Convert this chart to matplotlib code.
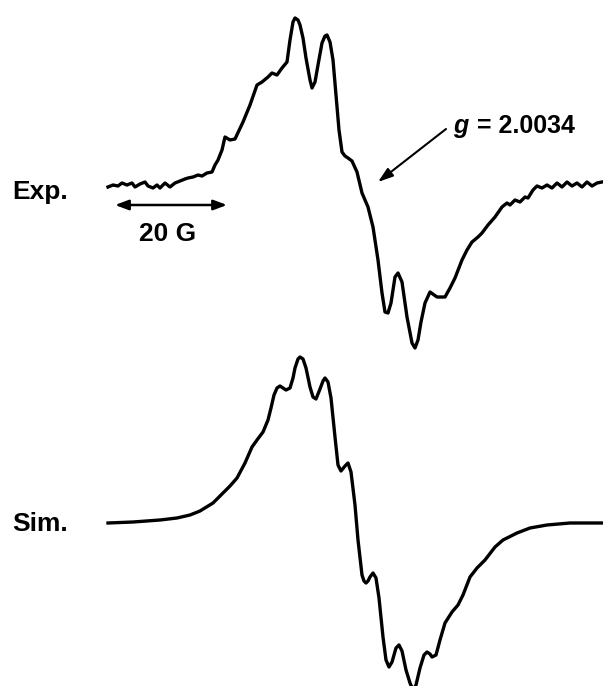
import matplotlib.pyplot as plt

plt.rcParams['font.family'] = ['Liberation Sans', 'DejaVu Sans']

# experimental trace (field position, signal; screen-like units, y grows downward)
exp_x = [108, 113, 118, 122, 127, 132, 135, 140, 145, 148, 153, 157, 160, 165, 170,
         175, 180, 185, 188, 193, 198, 202, 207, 212, 215, 218, 222, 225, 230, 235,
         243, 250, 257, 262, 268, 272, 277, 282, 287, 290, 293, 295, 298, 300, 303,
         306, 310, 312, 315, 318, 322, 325, 327, 330, 333, 336, 339, 342, 345, 348,
         352, 357, 362, 368, 373, 378, 382, 385, 388, 391, 395, 398, 402, 407, 412,
         415, 418, 421, 425, 430, 437, 445, 450, 455, 462, 467, 472, 478, 482, 488,
         495, 502, 507, 510, 515, 520, 525, 528, 533, 537, 542, 547, 552, 557, 562,
         567, 572, 577, 582, 587, 592, 597, 602]
exp_y = [187, 185, 186, 183, 185, 183, 187, 184, 182, 186, 188, 185, 188, 183, 187,
         183, 181, 179, 178, 177, 175, 176, 173, 172, 165, 160, 150, 137, 140, 139,
         122, 105, 85, 82, 77, 73, 75, 68, 62, 40, 22, 18, 20, 25, 38,
         58, 80, 88, 82, 65, 43, 36, 35, 42, 60, 95, 130, 152, 156, 158,
         161, 172, 193, 207, 227, 260, 293, 312, 313, 303, 277, 273, 282, 317, 343,
         348, 340, 322, 303, 292, 297, 297, 288, 278, 260, 250, 242, 237, 233, 225,
         217, 207, 203, 205, 200, 202, 197, 198, 190, 186, 188, 185, 188, 183, 187,
         182, 186, 183, 187, 182, 186, 183, 182]

# simulated trace
sim_x = [108, 133, 160, 177, 190, 200, 213, 223, 230, 237, 245, 252, 257, 263, 268,
         271, 274, 277, 280, 283, 286, 290, 293, 295, 298, 300, 303, 306, 310, 313,
         316, 320, 323, 325, 328, 331, 335, 338, 341, 345, 348, 351, 355, 358, 362,
         364, 366, 368, 370, 373, 376, 379, 383, 386, 389, 392, 396, 399, 402, 406,
         410, 413, 416, 420, 424, 427, 430, 432, 436, 440, 445, 452, 458, 463, 470,
         477, 485, 495, 503, 517, 530, 547, 570, 602]
sim_y = [523, 522, 520, 518, 515, 511, 503, 493, 486, 478, 463, 447, 440, 432, 420,
         408, 395, 388, 386, 388, 390, 388, 378, 368, 359, 357, 359, 368, 387, 397,
         399, 389, 381, 378, 382, 398, 437, 465, 471, 466, 463, 472, 505, 540, 575,
         581, 583, 581, 577, 573, 578, 598, 637, 660, 667, 662, 648, 645, 651, 670,
         683, 690, 685, 668, 655, 652, 654, 657, 655, 640, 623, 612, 605, 595, 577,
         568, 560, 547, 540, 533, 528, 525, 523, 523]

fig = plt.figure(figsize=(6.03, 6.86), dpi=100)
ax = fig.add_axes([0, 0, 1, 1])
ax.set_xlim(0, 603)
ax.set_ylim(686, 0)
ax.axis('off')

ax.plot(exp_x, exp_y, color='black', lw=2.4, solid_joinstyle='round')
ax.plot(sim_x, sim_y, color='black', lw=2.4, solid_joinstyle='round')

ax.text(12, 199, 'Exp.', fontsize=19, fontweight='bold', va='baseline')
ax.text(12, 531, 'Sim.', fontsize=19, fontweight='bold', va='baseline')

# 20 G scale bar
ax.annotate('', xy=(115, 205), xytext=(227, 205),
            arrowprops=dict(arrowstyle='<|-|>,head_length=0.8,head_width=0.3',
                            color='black', lw=1.8, shrinkA=0, shrinkB=0))
ax.text(168, 241, '20 G', fontsize=19, fontweight='bold', ha='center', va='baseline')

# g-value marker
ax.annotate('', xy=(378, 182), xytext=(446, 129),
            arrowprops=dict(arrowstyle='-|>,head_length=0.9,head_width=0.3',
                            color='black', lw=1.5, shrinkA=0, shrinkB=0))
ax.text(453, 133, 'g', fontsize=18, fontweight='bold', style='italic', va='baseline')
ax.text(477, 133, '= 2.0034', fontsize=18, fontweight='bold', va='baseline')

fig.savefig('out.png', dpi=100)
